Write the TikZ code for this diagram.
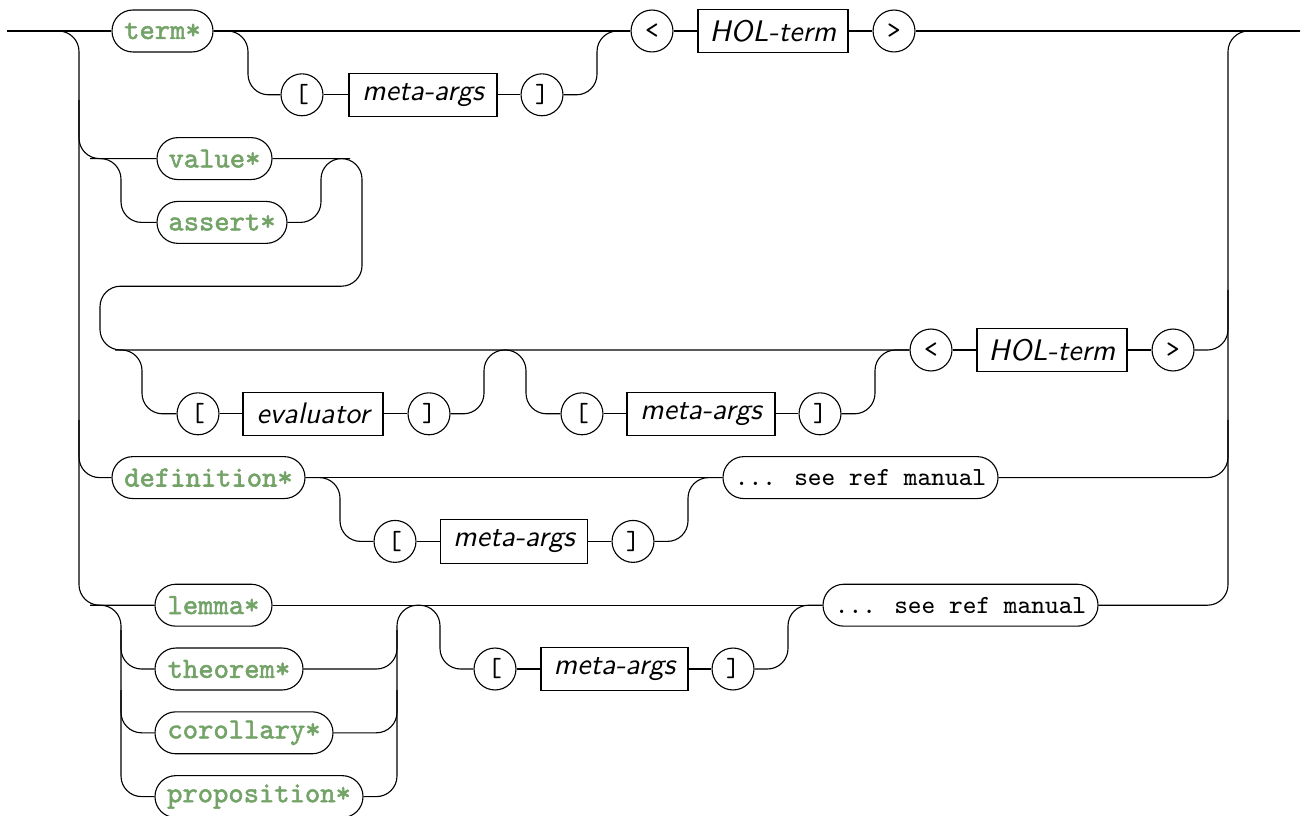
\documentclass[tikz,border=0pt]{standalone}
\usepackage{fontspec}
\newfontfamily\kwfont{Latin Modern Mono}[FakeBold=1.8]
\definecolor{kwgreen}{RGB}{115,163,103}
\begin{document}
\begin{tikzpicture}[x=0.36pt,y=-0.36pt, line width=0.4pt,
  w/.style={minimum width=#1*0.36pt},
  kw/.style={draw, rounded corners=7.5pt, minimum height=15.1pt, inner sep=0pt, font=\fontsize{10.5}{12}\selectfont\kwfont, text=kwgreen},
  tm/.style={draw, rounded corners=7.5pt, minimum height=15.1pt, inner sep=0pt, font=\fontsize{9.4}{11}\selectfont\ttfamily},
  sym/.style={draw, circle, minimum size=15.1pt, inner sep=0pt, font=\fontsize{9.4}{11}\selectfont\ttfamily},
  nt/.style={draw, rectangle, minimum height=15.6pt, inner sep=0pt, font=\fontsize{10.7}{12}\selectfont\sffamily\itshape},
  conn/.style={rounded corners=7.4pt}]
\useasboundingbox (0,0) rectangle (1307,816);
\coordinate (start) at (7,31);
\coordinate (end) at (1300,31);
% nodes
\node[kw,w=101] (term) at (162.5,31) {term*};
\node[sym] (lb1) at (302,94.8) {[};
\node[nt,w=148] (ma1) at (423,94.8) {meta-args};
\node[sym] (rb1) at (542,94.8) {]};
\node[sym] (lt1) at (652,31) {<};
\node[nt,w=150] (hol1) at (773,31) {HOL-term};
\node[sym] (gt1) at (894,31) {>};
\node[kw,w=115] (value) at (214.5,158.6) {value*};
\node[kw,w=130] (assert) at (222,222.4) {assert*};
\node[sym] (lb2) at (198,413.8) {[};
\node[nt,w=140] (eval) at (313,413.8) {evaluator};
\node[sym] (rb2) at (429,413.8) {]};
\node[sym] (lb3) at (582,413.8) {[};
\node[nt,w=148] (ma2) at (701,413.8) {meta-args};
\node[sym] (rb3) at (820,413.8) {]};
\node[sym] (lt2) at (931,350) {<};
\node[nt,w=150] (hol2) at (1052,350) {HOL-term};
\node[sym] (gt2) at (1173,350) {>};
\node[kw,w=193] (def) at (208.5,477.6) {definition*};
\node[sym] (lb4) at (395,541.4) {[};
\node[nt,w=147] (ma3) at (514,541.4) {meta-args};
\node[sym] (rb4) at (633,541.4) {]};
\node[tm,w=275] (ref1) at (860.5,477.6) {... see ref manual};
\node[kw,w=117] (lemma) at (213.5,605.2) {lemma*};
\node[kw,w=148] (thm) at (229,669) {theorem*};
\node[kw,w=178] (cor) at (244,732.8) {corollary*};
\node[kw,w=208] (prop) at (259,796.6) {proposition*};
\node[sym] (lb5) at (495,669) {[};
\node[nt,w=147] (ma4) at (614.5,669) {meta-args};
\node[sym] (rb5) at (733,669) {]};
\node[tm,w=275] (ref2) at (960.5,605.2) {... see ref manual};
% junction coordinates
\coordinate (j1) at (79,100);
\coordinate (j2) at (79,420);
\coordinate (j3) at (1228,290);
\coordinate (j4) at (1228,420);
\coordinate (j5) at (90,158.6);
\coordinate (j6) at (350,158.6);
\coordinate (j7) at (115,350);
\coordinate (j8) at (90,605.2);
\coordinate (j9) at (121,630);
\coordinate (j10) at (121,690);
\coordinate (j11) at (397,630);
\coordinate (j12) at (397,690);
% connectors
\draw (start) -- (term.west);
\draw[conn] (start) -- (79,31) -- (79,605.2) -- (lemma.west);
\draw[conn] (j1) -- (79,158.6) -- (value.west);
\draw[conn] (j2) -- (79,477.6) -- (def.west);
% row 1
\draw (term.east) -- (lt1.west);
\draw[conn] (term.east) -- (248,31) -- (248,94.8) -- (lb1.west);
\draw (lb1.east) -- (ma1.west);
\draw (ma1.east) -- (rb1.west);
\draw[conn] (rb1.east) -- (597,94.8) -- (597,31) -- (lt1.west);
\draw (lt1.east) -- (hol1.west);
\draw (hol1.east) -- (gt1.west);
\draw (gt1.east) -- (end);
% right rail
\draw[conn] (ref2.east) -- (1228,605.2) -- (1228,31) -- (end);
\draw[conn] (gt2.east) -- (1228,350) -- (j3);
\draw[conn] (ref1.east) -- (1228,477.6) -- (j4);
% value / assert
\draw[conn] (j5) -- (121,158.6) -- (121,222.4) -- (assert.west);
\draw[conn] (assert.east) -- (321,222.4) -- (321,158.6) -- (j6);
\draw[conn] (value.east) -- (362,158.6) -- (362,286.2) -- (100,286.2) -- (100,350) -- (lt2.west);
% evaluator / meta-args
\draw[conn] (j7) -- (142,350) -- (142,413.8) -- (lb2.west);
\draw (lb2.east) -- (eval.west);
\draw (eval.east) -- (rb2.west);
\draw[conn] (rb2.east) -- (484,413.8) -- (484,350) -- (526,350) -- (526,413.8) -- (lb3.west);
\draw (lb3.east) -- (ma2.west);
\draw (ma2.east) -- (rb3.west);
\draw[conn] (rb3.east) -- (875,413.8) -- (875,350) -- (lt2.west);
\draw (lt2.east) -- (hol2.west);
\draw (hol2.east) -- (gt2.west);
% definition
\draw (def.east) -- (ref1.west);
\draw[conn] (def.east) -- (340,477.6) -- (340,541.4) -- (lb4.west);
\draw (lb4.east) -- (ma3.west);
\draw (ma3.east) -- (rb4.west);
\draw[conn] (rb4.east) -- (688,541.4) -- (688,477.6) -- (ref1.west);
% lemma group
\draw (lemma.east) -- (ref2.west);
\draw[conn] (j8) -- (121,605.2) -- (121,669) -- (thm.west);
\draw[conn] (j9) -- (121,732.8) -- (cor.west);
\draw[conn] (j10) -- (121,796.6) -- (prop.west);
\draw[conn] (thm.east) -- (397,669) -- (397,605.2) -- (440,605.2) -- (440,669) -- (lb5.west);
\draw[conn] (cor.east) -- (397,732.8) -- (j11);
\draw[conn] (prop.east) -- (397,796.6) -- (j12);
\draw (lb5.east) -- (ma4.west);
\draw (ma4.east) -- (rb5.west);
\draw[conn] (rb5.east) -- (788,669) -- (788,605.2) -- (ref2.west);
\end{tikzpicture}
\end{document}
